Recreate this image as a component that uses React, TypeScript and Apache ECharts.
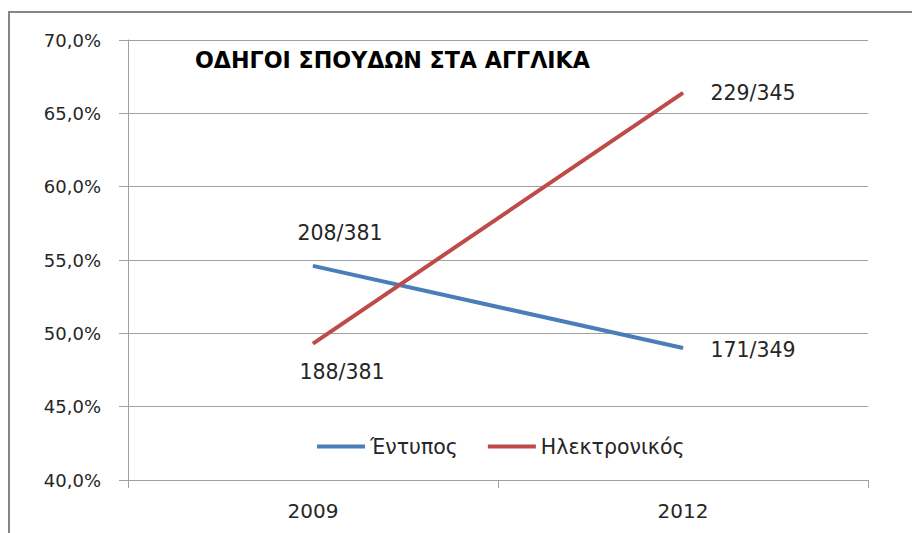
import React, { useEffect, useRef } from "react";
import * as echarts from "echarts";

const categories = ["2009", "2012"];
const printedValues = [54.6, 49.0];
const electronicValues = [49.3, 66.4];
const printedLabels = ["208/381", "171/349"];
const electronicLabels = ["188/381", "229/345"];
const printedName = "Έντυπος";
const electronicName = "Ηλεκτρονικός";
const titleText = "ΟΔΗΓΟΙ ΣΠΟΥΔΩΝ ΣΤΑ ΑΓΓΛΙΚΑ";

const FONT = "DejaVu Sans";
const TXT = "#262626";

export default function App() {
  const ref = useRef<HTMLDivElement>(null);
  useEffect(() => {
    const chart = echarts.init(ref.current!, null, { renderer: "svg" });
    const labelStyle = { fontFamily: FONT, fontSize: 20.5, color: TXT };
    const printedOffsets = [[27, -33], [70, 2]];
    const electronicOffsets = [[29, 28], [70, 0]];
    chart.setOption({
      animation: false,
      backgroundColor: "#ffffff",
      title: {
        text: titleText,
        left: 190,
        top: 44,
        textStyle: { fontFamily: FONT, fontSize: 22.2, fontWeight: "bold", color: "#000" },
      },
      legend: {
        left: 312,
        top: 431,
        itemWidth: 48,
        itemHeight: 4,
        itemGap: 30,
        icon: "rect",
        textStyle: { fontFamily: FONT, fontSize: 20.5, color: TXT },
        data: [printedName, electronicName],
      },
      grid: { left: 128, right: 44, top: 40, bottom: 53 },
      xAxis: {
        type: "category",
        data: categories,
        boundaryGap: true,
        axisLine: { lineStyle: { color: "#a0a0a0", width: 1 } },
        axisTick: { show: true, length: 8, interval: 0, lineStyle: { color: "#a0a0a0" } },
        axisLabel: { margin: 21, fontFamily: FONT, fontSize: 20, color: TXT },
      },
      yAxis: {
        type: "value",
        min: 40,
        max: 70,
        interval: 5,
        axisLine: { show: true, lineStyle: { color: "#a0a0a0", width: 1 } },
        axisTick: { show: true, length: 9, lineStyle: { color: "#a0a0a0" } },
        splitLine: { lineStyle: { color: "#a0a0a0", width: 1 } },
        axisLabel: {
          margin: 27,
          fontFamily: FONT,
          fontSize: 18,
          color: TXT,
          formatter: (v: number) => v.toFixed(1).replace(".", ",") + "%",
        },
      },
      series: [
        {
          name: printedName,
          type: "line",
          data: printedValues.map((v, i) => ({
            value: v,
            label: {
              show: true,
              position: "inside",
              offset: printedOffsets[i],
              formatter: printedLabels[i],
              ...labelStyle,
            },
          })),
          symbol: "circle",
          symbolSize: 1,
          showSymbol: true,
          color: "#4A7EBB",
          lineStyle: { width: 4, color: "#4A7EBB" },
        },
        {
          name: electronicName,
          type: "line",
          data: electronicValues.map((v, i) => ({
            value: v,
            label: {
              show: true,
              position: "inside",
              offset: electronicOffsets[i],
              formatter: electronicLabels[i],
              ...labelStyle,
            },
          })),
          symbol: "circle",
          symbolSize: 1,
          showSymbol: true,
          color: "#BE4B48",
          lineStyle: { width: 4, color: "#BE4B48" },
        },
      ],
      graphic: [
        {
          type: "rect",
          shape: { x: 9, y: 12, width: 920, height: 540 },
          style: { fill: "none", stroke: "#868686", lineWidth: 2 },
          silent: true,
        },
      ],
    });
    return () => chart.dispose();
  }, []);
  return (
    <div
      ref={ref}
      style={{ position: "fixed", left: 0, top: 0, width: 912, height: 533 }}
    />
  );
}
